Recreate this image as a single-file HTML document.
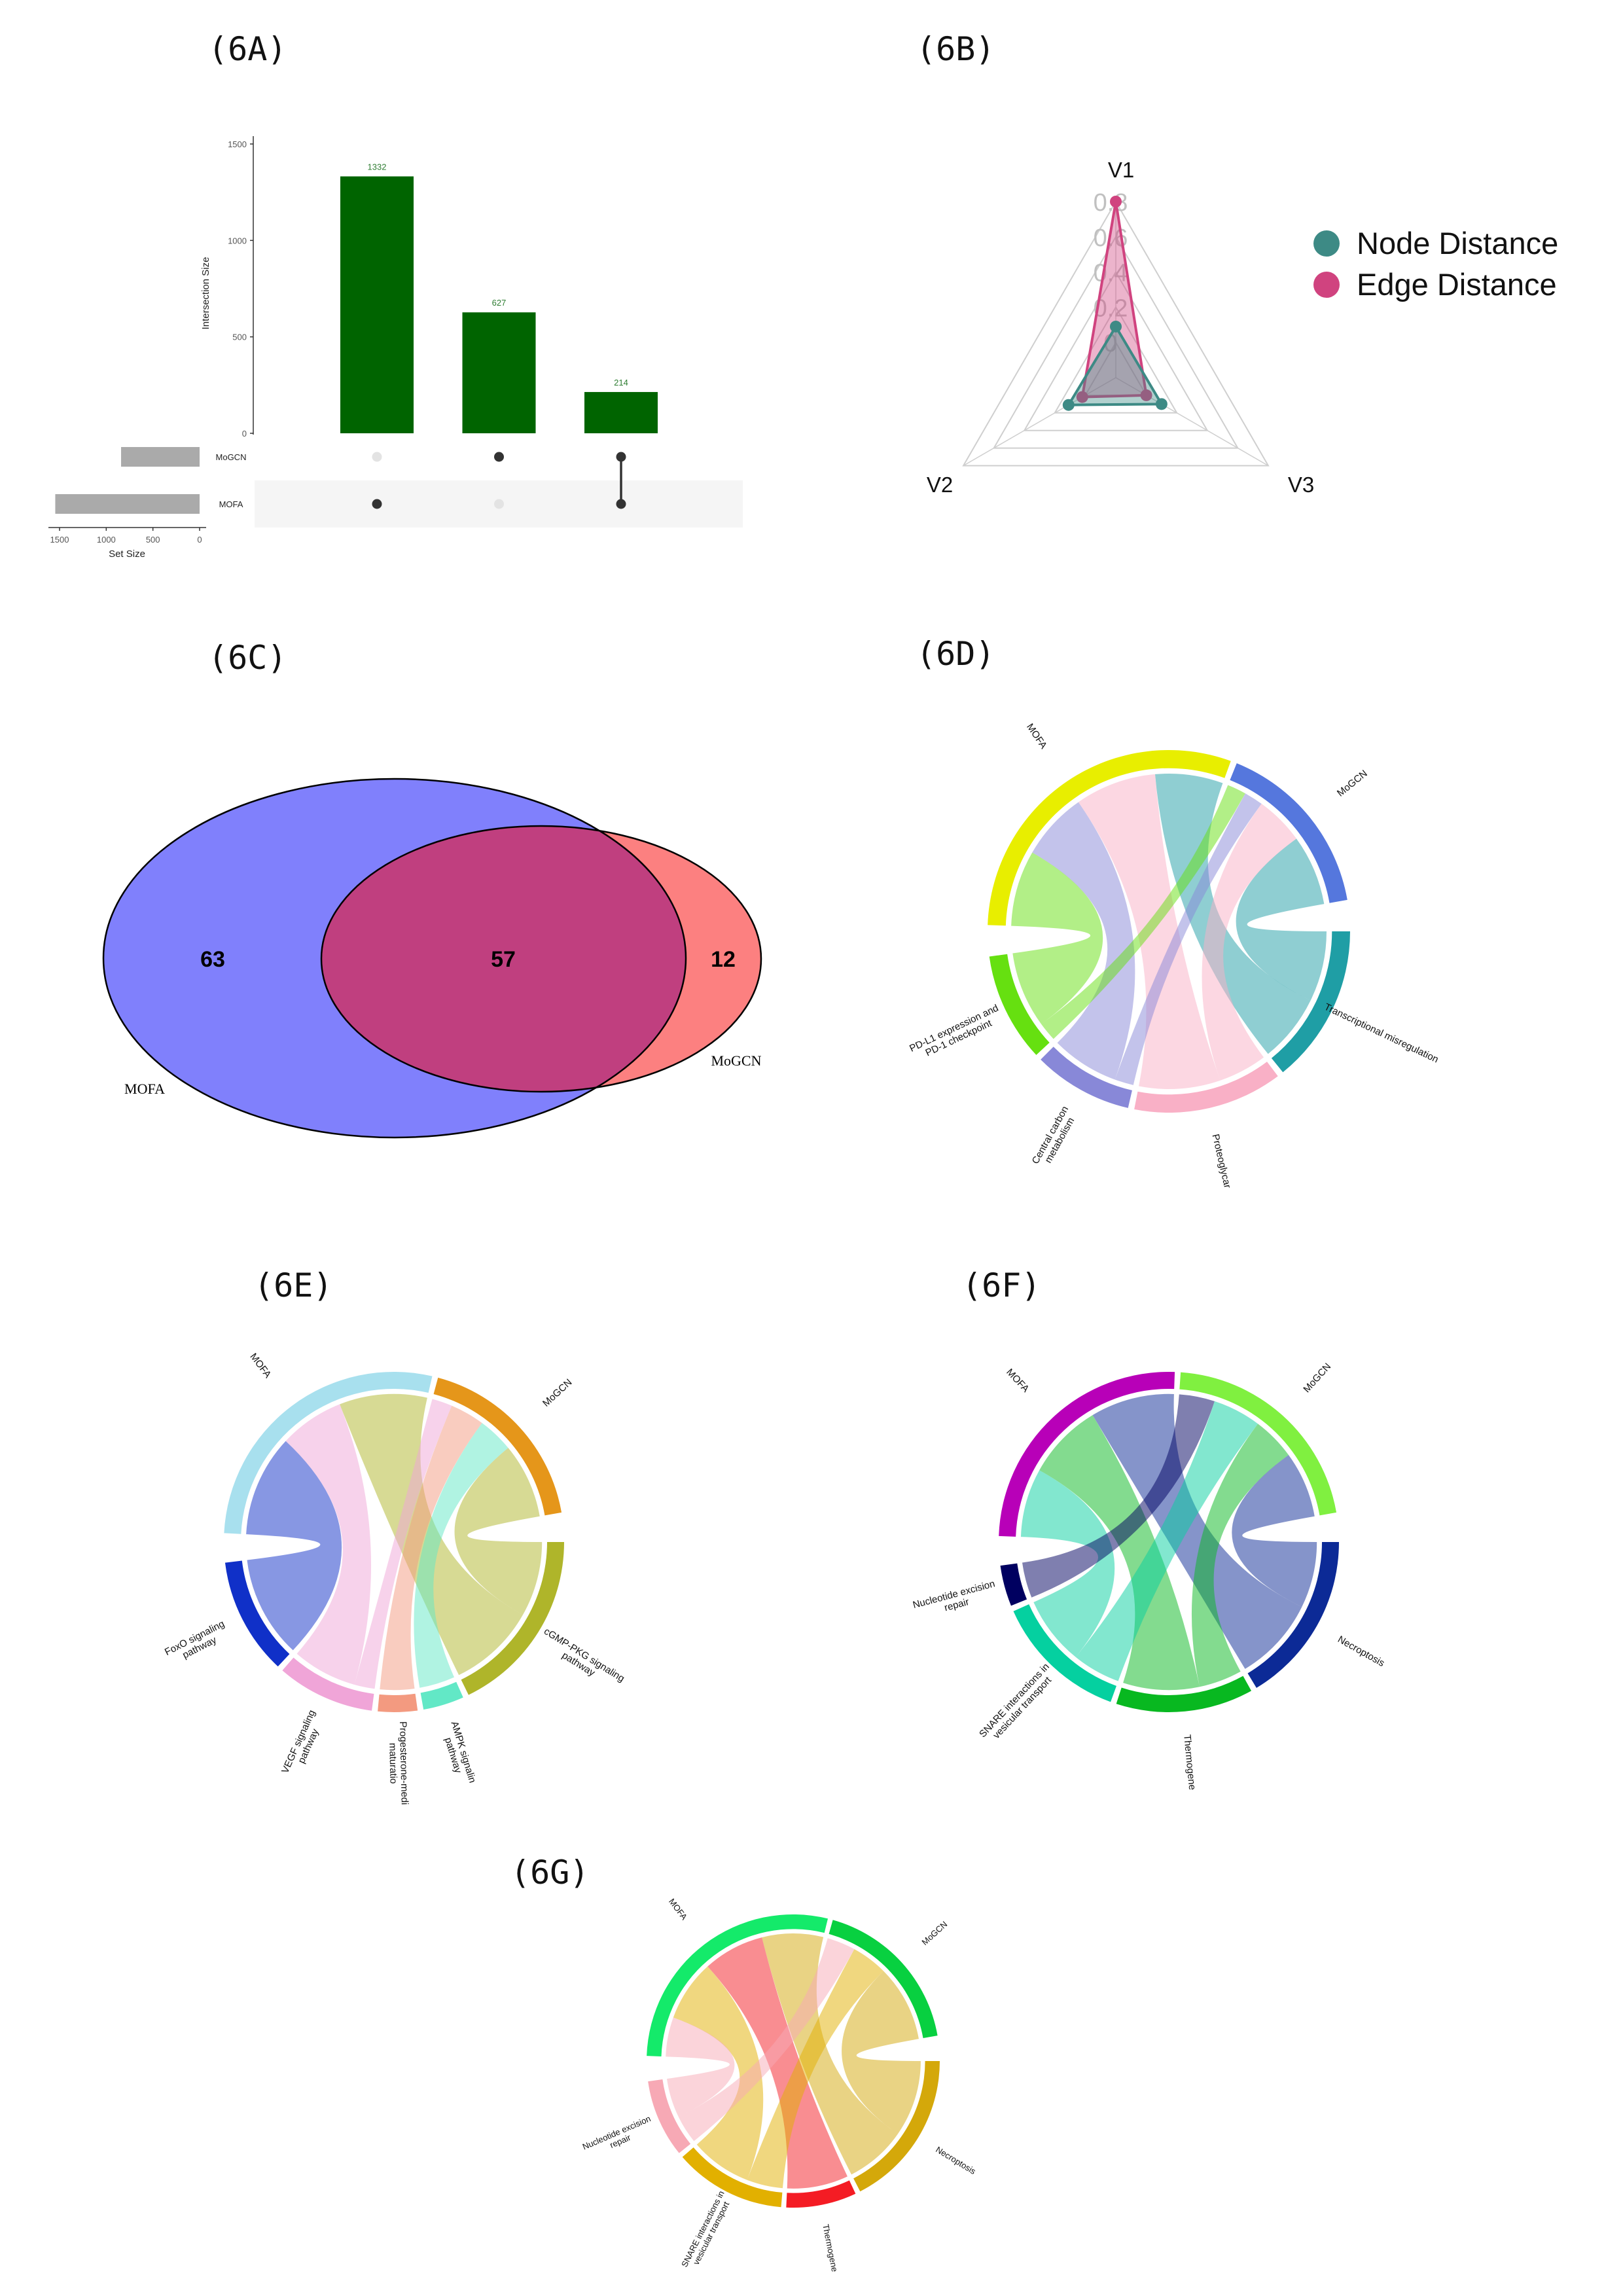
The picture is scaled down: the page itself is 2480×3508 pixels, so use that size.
<!DOCTYPE html>
<html><head><meta charset="utf-8"><style>
html,body{margin:0;padding:0;background:#fff;}
svg{display:block;}
.title{font-family:"DejaVu Sans Mono","Liberation Mono",monospace;font-size:50px;fill:#111;}
.sm{font-family:"Liberation Sans",sans-serif;}
</style></head><body>
<svg id="root" width="2480" height="3508" viewBox="0 0 2480 3508" xmlns="http://www.w3.org/2000/svg">
<rect width="2480" height="3508" fill="#fff"/>
<text class="title" x="318" y="92">(6A)</text>
<text class="title" x="1400" y="92">(6B)</text>
<text class="title" x="318" y="1022">(6C)</text>
<text class="title" x="1400" y="1016">(6D)</text>
<text class="title" x="388" y="1981">(6E)</text>
<text class="title" x="1470" y="1981">(6F)</text>
<text class="title" x="780" y="2878">(6G)</text>

<g id="upset"></g>
<g id="radar"></g>

<g id="venn">
  <defs><clipPath id="clipMofa"><ellipse cx="603" cy="1464" rx="445" ry="274"/></clipPath></defs>
  <ellipse cx="603" cy="1464" rx="445" ry="274" fill="#8080fc"/>
  <ellipse cx="827" cy="1465" rx="336" ry="203" fill="#fc8080"/>
  <ellipse cx="827" cy="1465" rx="336" ry="203" fill="#c03f7f" clip-path="url(#clipMofa)"/>
  <ellipse cx="603" cy="1464" rx="445" ry="274" fill="none" stroke="#000" stroke-width="2.5"/>
  <ellipse cx="827" cy="1465" rx="336" ry="203" fill="none" stroke="#000" stroke-width="2.5"/>
  <text x="325" y="1477" text-anchor="middle" font-family="Liberation Sans,sans-serif" font-weight="bold" font-size="34">63</text>
  <text x="769" y="1477" text-anchor="middle" font-family="Liberation Sans,sans-serif" font-weight="bold" font-size="34">57</text>
  <text x="1105" y="1477" text-anchor="middle" font-family="Liberation Sans,sans-serif" font-weight="bold" font-size="34">12</text>
  <text x="221" y="1671" text-anchor="middle" font-family="Liberation Serif,serif" font-size="22">MOFA</text>
  <text x="1125" y="1628" text-anchor="middle" font-family="Liberation Serif,serif" font-size="22">MoGCN</text>
</g>

<g id="chordD"></g>
<g id="chordE"></g>
<g id="chordF"></g>
<g id="chordG"></g>
</svg>
<script>
// ---------- UpSet data ----------
const upsetIntersections = [1332, 627, 214];
const upsetSets = ["MoGCN", "MOFA"];
const upsetSetSizes = [841, 1546];
const upsetMembership = [[0,1],[1,0],[1,1]]; // per intersection: [MoGCN, MOFA]
const upsetYTicks = [0, 500, 1000, 1500];
const upsetXTicks = [1500, 1000, 500, 0];

// ---------- Radar data ----------
const radarAxes = ["V1", "V2", "V3"];
const radarNode = [0.09, 0.11, 0.10];
const radarEdge = [0.80, 0.02, 0.00];
const radarTicks = [0.8, 0.6, 0.4, 0.2, 0];
const radarTickLabels = ["0.8", "0.6", "0.4", "0.2", "0"];

// ---------- Chord data ----------
const chordDPathways = ["Transcriptional misregulation", "Proteoglycan", "Central carbon metabolism", "PD-L1 expression and PD-1 checkpoint"];
const chordDLabels = [["Transcriptional misregulation"], ["Proteoglycar"], ["Central carbon", "metabolism"], ["PD-L1 expression and", "PD-1 checkpoint"]];
const chordDMofa = [25, 30, 25, 28];
const chordDMogcn = [26, 18, 7, 7];

const chordEPathways = ["cGMP-PKG signaling pathway", "AMPK signaling pathway", "Progesterone-mediated oocyte maturation", "VEGF signaling pathway", "FoxO signaling pathway"];
const chordELabels = [["cGMP-PKG signaling", "pathway"], ["AMPK signalin", "pathway"], ["Progesterone-medi", "maturatio"], ["VEGF signaling", "pathway"], ["FoxO signaling", "pathway"]];
const chordEMofa = [34.5, 0, 0, 25.5, 40];
const chordEMogcn = [29.5, 14, 13.5, 8, 0];

const chordFPathways = ["Necroptosis", "Thermogenesis", "SNARE interactions in vesicular transport", "Nucleotide excision repair"];
const chordFLabels = [["Necroptosis"], ["Thermogene"], ["SNARE interactions in", "vesicular transport"], ["Nucleotide excision", "repair"]];
const chordFMofa = [33, 30, 27, 0];
const chordFMogcn = [26, 17, 19, 14];

const chordGPathways = ["Necroptosis", "Thermogenesis", "SNARE interactions in vesicular transport", "Nucleotide excision repair"];
const chordGLabels = [["Necroptosis"], ["Thermogene"], ["SNARE interactions in", "vesicular transport"], ["Nucleotide excision", "repair"]];
const chordGMofa = [28, 28, 28, 18];
const chordGMogcn = [35, 0, 16.5, 13];

const NS = "http://www.w3.org/2000/svg";
function mk(parent, tag, attrs, txt) {
  const e = document.createElementNS(NS, tag);
  for (const k in attrs) e.setAttribute(k, attrs[k]);
  if (txt !== undefined) e.textContent = txt;
  parent.appendChild(e);
  return e;
}

// ---------- UpSet ----------
(function(){
  const g = document.getElementById('upset');
  const y = v => 662 - v * (442 / 1500);
  const xs = i => 576 + i * 186.5;
  const sx = v => 305 - v * (214 / 1500);
  const rowY = [698, 770];
  // matrix band
  const band = mk(g, 'rect', {x:389, y:734, width:746, height:72, fill:'#f5f5f5'});
  
  
  // y axis
  mk(g, 'line', {x1:387, y1:208, x2:387, y2:664, stroke:'#333', 'stroke-width':1.5});
  upsetYTicks.forEach(t => {
    mk(g, 'line', {x1:382, y1:y(t), x2:387, y2:y(t), stroke:'#333', 'stroke-width':1.5});
    const tl = mk(g, 'text', {x:377, y:y(t)+5, 'text-anchor':'end', 'font-size':13, fill:'#555', class:'sm'}, String(t));
    
    
  });
  const yt = mk(g, 'text', {x:0, y:0, transform:'translate(319,448) rotate(-90)', 'text-anchor':'middle', 'font-size':15, fill:'#222', class:'sm'}, 'Intersection Size');
  
  
  upsetIntersections.forEach((v, i) => {
    const b = mk(g, 'rect', {x:xs(i)-56, y:y(v), width:112, height:662-y(v), fill:'#006400'});
    
    
    const l = mk(g, 'text', {x:xs(i), y:y(v)-10, 'text-anchor':'middle', 'font-size':13, fill:'#2e7d32', class:'sm'}, String(v));
    
    
    const mem = upsetMembership[i];
    const on = [];
    mem.forEach((m, r) => {
      const d = mk(g, 'circle', {cx:xs(i), cy:rowY[r], r:7.5, fill: m ? '#333' : '#e3e3e3'});
      
      
      if (m) on.push(rowY[r]);
    });
    if (on.length > 1) mk(g, 'line', {x1:xs(i), y1:Math.min(...on), x2:xs(i), y2:Math.max(...on), stroke:'#333', 'stroke-width':3.5});
  });
  upsetSets.forEach((s, r) => {
    const b = mk(g, 'rect', {x:sx(upsetSetSizes[r]), y:rowY[r]-15, width:305-sx(upsetSetSizes[r]), height:30, fill:'#aaaaaa'});
    
    
    const t = mk(g, 'text', {x:353, y:rowY[r]+5, 'text-anchor':'middle', 'font-size':13, fill:'#222', class:'sm'}, s);
    
    
  });
  mk(g, 'line', {x1:74, y1:806, x2:315, y2:806, stroke:'#333', 'stroke-width':1.5});
  upsetXTicks.forEach(t => {
    mk(g, 'line', {x1:sx(t), y1:806, x2:sx(t), y2:811, stroke:'#333', 'stroke-width':1.5});
    const tl = mk(g, 'text', {x:sx(t), y:829, 'text-anchor':'middle', 'font-size':13, fill:'#555', class:'sm'}, String(t));
    
    
  });
  const xt = mk(g, 'text', {x:194, y:851, 'text-anchor':'middle', 'font-size':15, fill:'#222', class:'sm'}, 'Set Size');
  
  
})();

// ---------- Radar ----------
(function(){
  const g = document.getElementById('radar');
  const cx = 1705, cy = 577, R = 269, vmin = -0.2, vmax = 0.8;
  const angs = [0, 240, 120].map(a => a * Math.PI / 180); // V1 top, V2 lower-left, V3 lower-right
  const r = v => (v - vmin) / (vmax - vmin) * R;
  const pt = (i, v) => [cx + r(v) * Math.sin(angs[i]), cy - r(v) * Math.cos(angs[i])];
  [1,2,3,4,5].forEach(k => {
    const rr = k * R / 5;
    const pts = angs.map(a => [cx + rr*Math.sin(a), cy - rr*Math.cos(a)].join(',')).join(' ');
    mk(g, 'polygon', {points: pts, fill:'none', stroke:'#cfcfcf', 'stroke-width':2});
  });
  angs.forEach(a => mk(g, 'line', {x1:cx, y1:cy, x2:cx+R*Math.sin(a), y2:cy-R*Math.cos(a), stroke:'#cfcfcf', 'stroke-width':1.5}));
  radarTicks.forEach((t, i) => {
    const tl = mk(g, 'text', {x:cx-8, y:cy - r(t) + 14, 'text-anchor':'middle', 'font-size':38, fill:'#c0c0c0', class:'sm'}, radarTickLabels[i]);
    
    
  });
  function series(vals, color, name) {
    const pts = vals.map((v, i) => pt(i, v));
    const poly = mk(g, 'polygon', {points: pts.map(p => p.join(',')).join(' '), fill: color, 'fill-opacity':0.4, stroke: color, 'stroke-width':4});
    
    
    pts.forEach(p => {
      const c = mk(g, 'circle', {cx:p[0], cy:p[1], r:9, fill:color});
      
      
    });
  }
  series(radarEdge, '#d0437f', 'edge-distance');
  series(radarNode, '#3d8a85', 'node-distance');
  const labPos = [[1713, 271], [1436, 752], [1988, 752]];
  radarAxes.forEach((a, i) => {
    const t = mk(g, 'text', {x:labPos[i][0], y:labPos[i][1], 'text-anchor':'middle', 'font-size':33, fill:'#111', class:'sm'}, a);
    
    
  });
  const leg = [['Node Distance', '#3d8a85', 372], ['Edge Distance', '#d0437f', 435]];
  leg.forEach(l => {
    const c = mk(g, 'circle', {cx:2027, cy:l[2], r:20, fill:l[1]});
    
    
    const t = mk(g, 'text', {x:2073, y:l[2]+16, 'font-size':47, fill:'#111', class:'sm'}, l[0]);
    
    
  });
})();

// ---------- Chord ----------
function chord(gid, cx, cy, R, mofa, mogcn, labels, pColors, mofaColor, mogcnColor, fs) {
  const g = document.getElementById(gid);
  const n = mofa.length, big = 10, small = 2;
  let sum = 0; for (let i = 0; i < n; i++) sum += mofa[i] + mogcn[i];
  const unit = (360 - 2*big - small*n) / (2*sum);
  const rad = d => d * Math.PI / 180;
  const P = (a, r) => [cx + r*Math.sin(rad(a)), cy - r*Math.cos(rad(a))];
  const Ro = R, Ri = R*0.9, Rr = R*0.87;
  const sectors = [];
  const pPart = [];
  let a = 90;
  for (let i = 0; i < n; i++) {
    const s = a, e = s + (mofa[i] + mogcn[i]) * unit;
    pPart.push({gcn:[s, s + mogcn[i]*unit], mofa:[s + mogcn[i]*unit, e]});
    sectors.push({s, e, color:pColors[i], label:labels[i]});
    a = e + small;
  }
  a = a - small + big;
  const mofaPart = new Array(n), gcnPart = new Array(n);
  let s0 = a;
  for (let i = n-1; i >= 0; i--) { mofaPart[i] = [a, a + mofa[i]*unit]; a += mofa[i]*unit; }
  sectors.push({s:s0, e:a, color:mofaColor, label:['MOFA']});
  a += small; s0 = a;
  for (let i = n-1; i >= 0; i--) { gcnPart[i] = [a, a + mogcn[i]*unit]; a += mogcn[i]*unit; }
  sectors.push({s:s0, e:a, color:mogcnColor, label:['MoGCN']});

  function arcTo(a1, a2, r) {
    const p = P(a2, r); const large = (a2 - a1) > 180 ? 1 : 0;
    return `A${r},${r} 0 ${large} 1 ${p[0]},${p[1]}`;
  }
  function ribbon(src, tgt, color) {
    if (src[1] - src[0] < 0.01) return;
    const p0 = P(src[0], Rr), p1 = P(tgt[0], Rr), p2 = P(src[0], Rr);
    const d = `M${p0[0]},${p0[1]} ${arcTo(src[0], src[1], Rr)} Q${cx},${cy} ${p1[0]},${p1[1]} ${arcTo(tgt[0], tgt[1], Rr)} Q${cx},${cy} ${p2[0]},${p2[1]}Z`;
    const path = mk(g, 'path', {d, fill: color, 'fill-opacity':0.5});
    
    
  }
  for (let i = 0; i < n; i++) {
    ribbon(mofaPart[i], pPart[i].mofa, pColors[i]);
    ribbon(gcnPart[i], pPart[i].gcn, pColors[i]);
  }
  sectors.forEach(sc => {
    const a1 = P(sc.s, Ro), a2 = P(sc.e, Ro), b2 = P(sc.e, Ri), b1 = P(sc.s, Ri);
    const large = (sc.e - sc.s) > 180 ? 1 : 0;
    const d = `M${a1[0]},${a1[1]} A${Ro},${Ro} 0 ${large} 1 ${a2[0]},${a2[1]} L${b2[0]},${b2[1]} A${Ri},${Ri} 0 ${large} 0 ${b1[0]},${b1[1]}Z`;
    const seg = mk(g, 'path', {d, fill: sc.color});
    
    
    const m = ((sc.s + sc.e) / 2) % 360;
    const lp = P(m, R*1.3);
    const rot = (m > 0 && m < 180) ? m - 90 : m + 90;
    const t = mk(g, 'text', {x:0, y:0, transform:`translate(${lp[0]},${lp[1]}) rotate(${rot})`, 'text-anchor':'middle', 'font-size':fs, fill:'#111', class:'sm'});
    
    
    const nl = sc.label.length;
    sc.label.forEach((line, k) => {
      mk(t, 'tspan', {x:0, y: (k - (nl-1)/2) * fs * 1.1 + fs*0.35}, line);
    });
  });
}
chord('chordD', 1786, 1423, 277, chordDMofa, chordDMogcn, chordDLabels,
  ['#1f9ea5', '#f9b0c6', '#8888d8', '#66e010'], '#e8ee00', '#5577dd', 15);
chord('chordE', 602, 2356, 260, chordEMofa, chordEMogcn, chordELabels,
  ['#afb52a', '#62e8c6', '#f39a80', '#f0a5d8', '#1030c8'], '#a8e0ee', '#e5961a', 15);
chord('chordF', 1786, 2356, 260, chordFMofa, chordFMogcn, chordFLabels,
  ['#0c2a96', '#08b820', '#05d0a0', '#000060'], '#b800b8', '#80f040', 15);
chord('chordG', 1212, 3149, 224, chordGMofa, chordGMogcn, chordGLabels,
  ['#d4a80a', '#f41c24', '#e2b000', '#f7a9b5'], '#14ea6a', '#08d040', 13);
</script>
</body></html>
